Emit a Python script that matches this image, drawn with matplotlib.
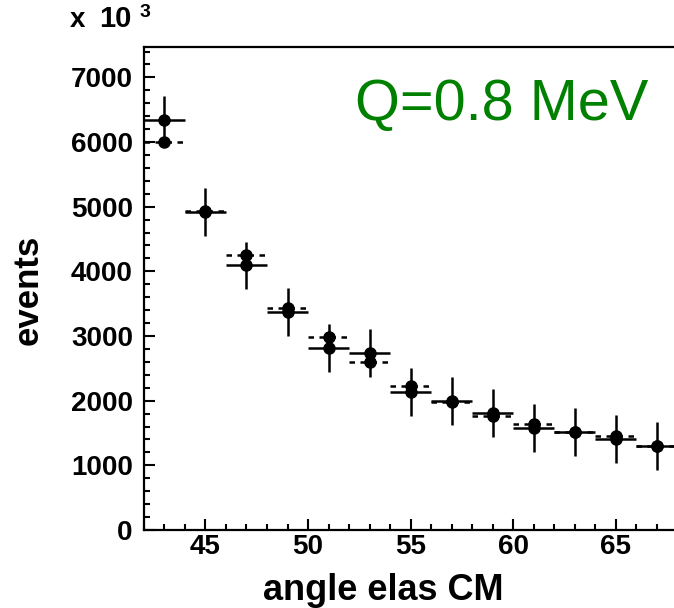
import numpy as np
import matplotlib
matplotlib.use("Agg")
import matplotlib.pyplot as plt
from matplotlib.ticker import MultipleLocator

plt.rcParams['font.family'] = ['Liberation Sans', 'DejaVu Sans']

# bins of 2 degrees, centres
angle = [43, 45, 47, 49, 51, 53, 55, 57, 59, 61, 63, 65, 67]
half_width = 1.0
# solid: measured with errors
events_data = [6340, 4915, 4096, 3370, 2813, 2736, 2133, 1994, 1808, 1576, 1515, 1406, 1298]
events_err = [370, 370, 365, 370, 370, 370, 375, 370, 370, 370, 370, 370, 370]
# dashed: second histogram
events_sim = [5997, 4935, 4250, 3431, 2983, 2597, 2226, 1978, 1762, 1638, 1515, 1453, 1298]

fig = plt.figure(figsize=(6.74, 6.08), dpi=100)
ax = fig.add_axes([0.2136, 0.1283, 0.791, 0.7944])

# dashed histogram
ax.errorbar(angle, events_sim, xerr=half_width, fmt='o', color='black',
            ms=8, elinewidth=0, capsize=0, zorder=2)
for x, y in zip(angle, events_sim):
    ax.hlines(y, x - half_width, x + half_width, colors='black',
              linestyles=(0, (2.2, 2.2)), linewidth=1.8, zorder=2)

# solid histogram with errors
ax.errorbar(angle, events_data, xerr=half_width, yerr=events_err, fmt='o',
            color='black', ms=8, elinewidth=1.8, capsize=0, zorder=3)

ax.set_xlim(42, 68)
ax.set_ylim(0, 7470)
ax.xaxis.set_major_locator(MultipleLocator(5))
ax.xaxis.set_minor_locator(MultipleLocator(1))
ax.yaxis.set_major_locator(MultipleLocator(1000))
ax.yaxis.set_minor_locator(MultipleLocator(200))
ax.tick_params(which='both', direction='in', width=1.5, labelsize=20, top=False, right=False)
ax.tick_params(which='major', length=8)
ax.tick_params(which='minor', length=4.5)
ax.tick_params(axis='x', which='major', pad=3)
ax.tick_params(axis='y', which='major', pad=8)
for lab in ax.get_xticklabels() + ax.get_yticklabels():
    lab.set_fontweight('bold')
for s in ax.spines.values():
    s.set_linewidth(1.6)

fig.text(383 / 674, 8 / 608, "angle elas CM", fontsize=26, fontweight='bold',
         ha='center', va='baseline')
fig.text(28 / 674, 1 - 290 / 608, "events", fontsize=25, fontweight='bold',
         rotation=90, ha='center', va='center')

fig.text(355 / 674, 1 - 120 / 608, "Q=0.8 MeV", color='#008000', fontsize=41.5,
         va='baseline', ha='left')
# exponent label at the top left
fig.text(70 / 674, 1 - 27 / 608, "x", fontsize=20, fontweight='bold',
         va='baseline', ha='left')
fig.text(99 / 674, 1 - 27 / 608, "10", fontsize=21, fontweight='bold',
         va='baseline', ha='left')
fig.text(140 / 674, 1 - 17 / 608, "3", fontsize=14, fontweight='bold',
         va='baseline', ha='left')

fig.savefig("out.png", dpi=100)
